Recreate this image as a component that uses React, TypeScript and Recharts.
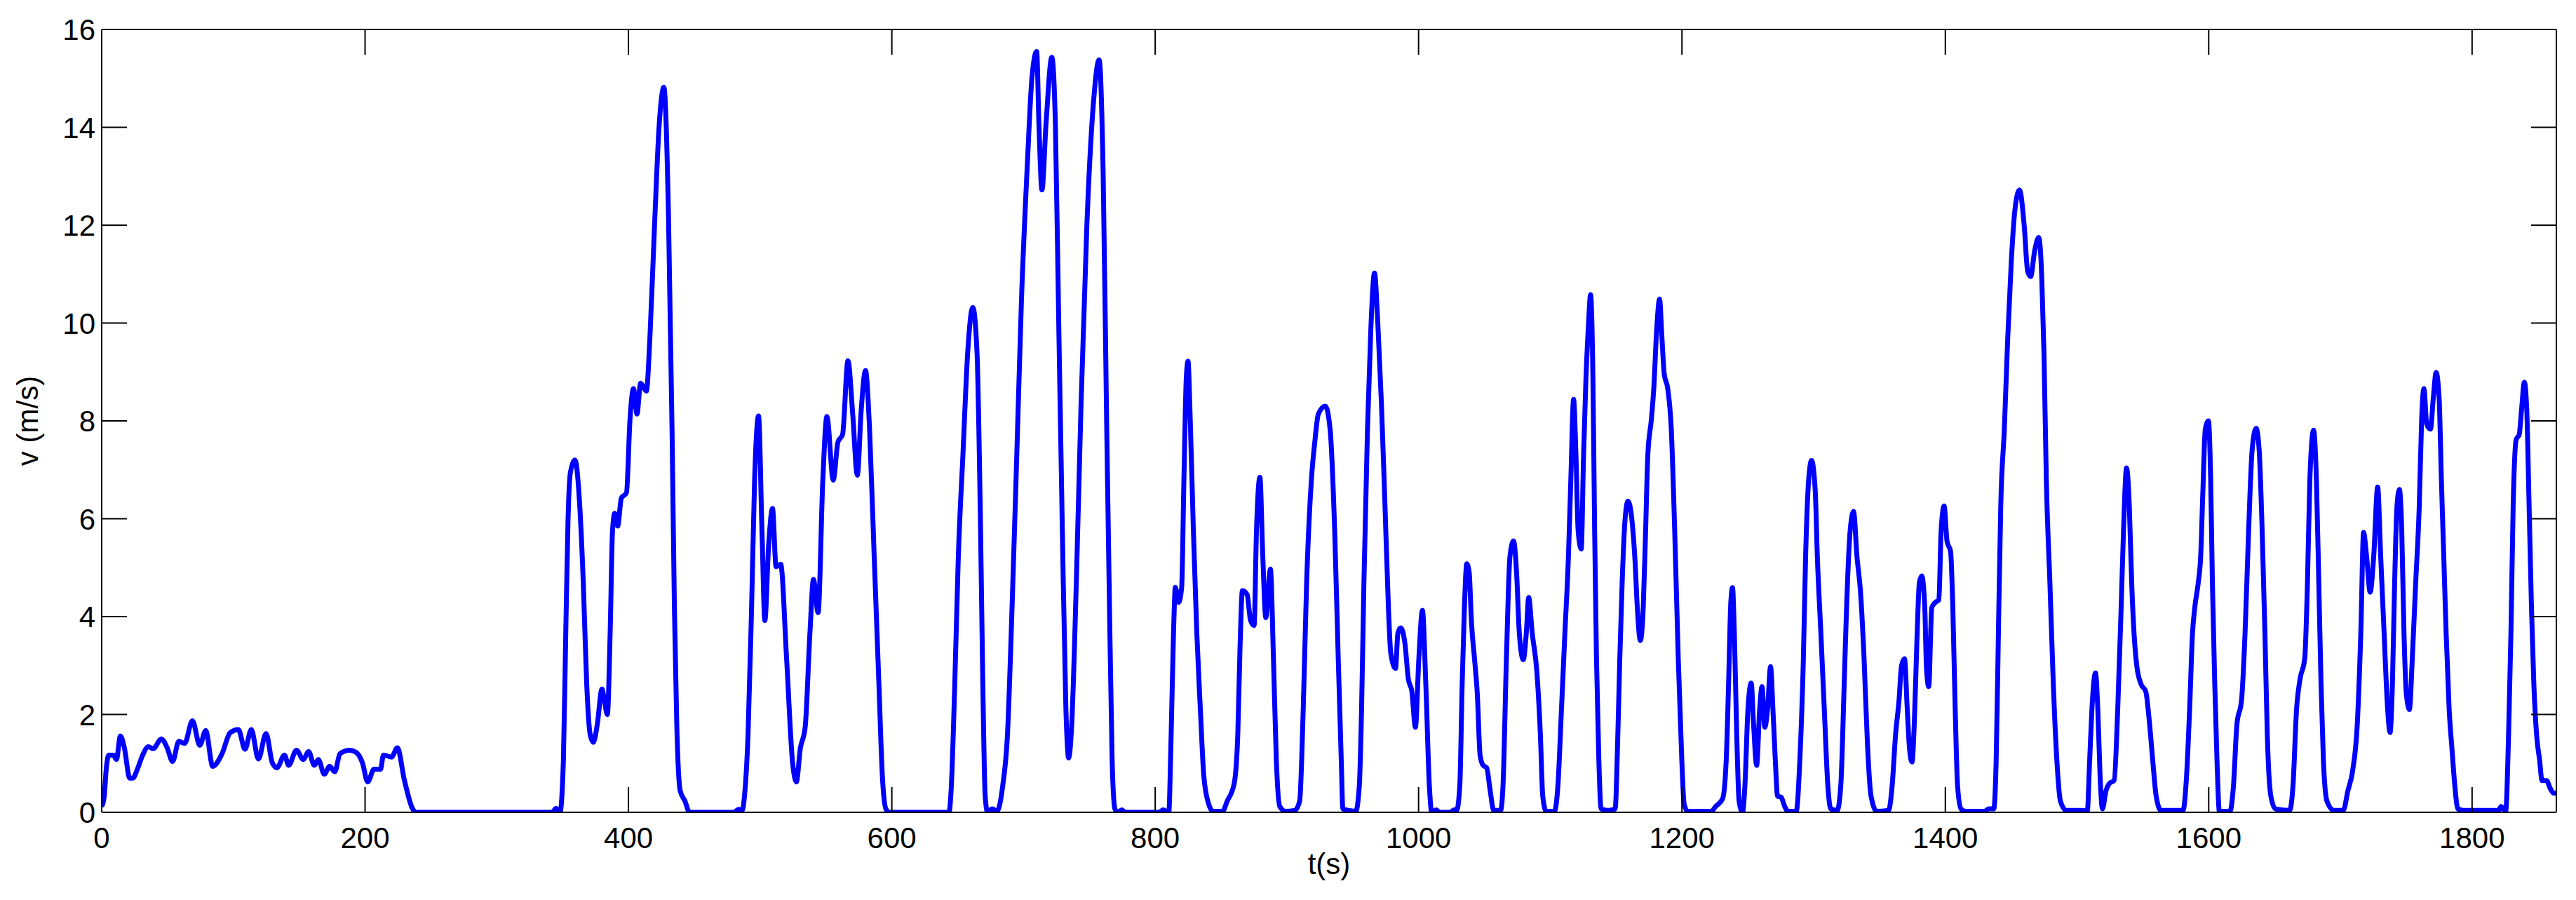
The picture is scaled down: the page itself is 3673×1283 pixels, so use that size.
import React from 'react';
import { LineChart, Line, XAxis, YAxis } from 'recharts';

const FONT = "'Liberation Sans', Arial, Helvetica, sans-serif";
const X_TICKS = [0, 200, 400, 600, 800, 1000, 1200, 1400, 1600, 1800];
const Y_TICKS = [0, 2, 4, 6, 8, 10, 12, 14, 16];
const X_MAX = 1864;
const Y_MAX = 16;
const X_TITLE = 't(s)';
const Y_TITLE = 'v (m/s)';

// [t (s), v (m/s)]
const part1: [number, number][] = [
  [0, 0.12], [1.8, 0.3], [3.5, 0.9], [5.3, 1.17], [8.9, 1.17], [11.2, 1.08], [14.2, 1.56], [17.2, 1.32],
  [21.3, 0.7], [23.6, 0.7], [27.5, 0.91], [31.1, 1.17], [35.5, 1.34], [39.1, 1.3], [45.3, 1.5], [49.7, 1.32],
  [53.8, 1.04], [58.6, 1.45], [63, 1.41], [68.9, 1.87], [74.5, 1.37], [79, 1.67], [84.3, 0.94], [91.4, 1.2],
  [97.6, 1.63], [103.8, 1.69], [108.8, 1.29], [113.6, 1.69], [119, 1.09], [124.8, 1.61], [129.6, 1.01],
  [133.1, 0.91], [138.8, 1.17], [142, 0.96], [147.9, 1.27], [153, 1.08], [157.1, 1.24], [161.5, 0.96],
  [164.5, 1.08], [169, 0.78], [173.1, 0.94], [177, 0.83], [181, 1.2], [188.2, 1.27], [193.5, 1.22], [198, 1.01],
  [202, 0.62], [206.8, 0.88], [211.8, 0.88], [213.9, 1.17], [220.1, 1.13], [224.5, 1.32], [229.9, 0.65],
  [236.1, 0.07], [238.7, 0],
];

const part2: [number, number][] = [
  [300, 0], [342, 0], [345, 0.08], [348, 0],
  [350.6, 1.06], [352.4, 3.66], [354.1, 5.95], [355.9, 6.94], [359.4, 7.2], [363, 6.27], [365.7, 4.7],
  [368.3, 2.62], [371, 1.58], [373.3, 1.43], [376.3, 1.79], [379.9, 2.52], [381.6, 2.31], [384, 2.0],
  [386.1, 3.66], [387.9, 5.75], [389.6, 6.11], [391.8, 5.85], [394.6, 6.42], [398.5, 6.53], [401.2, 8.04],
  [403.8, 8.66], [406.5, 8.14], [409.2, 8.77], [413.6, 8.61], [416.3, 9.7], [419.8, 11.99], [423.4, 14.07],
  [426.9, 14.82], [430.4, 12.2], [433.1, 7.83], [434.9, 4.18], [436.7, 1.79], [439.3, 0.44], [442.9, 0.23],
  [446.4, 0], [480, 0], [483.7, 0.06], [486.5, 0.05], [488.1, 0.33], [490.8, 1.58], [493.5, 4.18],
  [495.8, 6.79], [498.8, 8.1], [501.4, 5.75], [503.6, 3.92], [506.4, 5.43], [509.4, 6.21], [512.1, 5.02],
  [515.6, 5.07], [520.1, 3.14], [524.5, 1.06], [527.5, 0.62], [530.5, 1.3], [534.2, 1.74], [537.8, 3.66],
  [540.5, 4.76], [544, 4.08], [547.6, 6.79], [550.7, 8.09], [555.5, 6.79], [559.1, 7.57], [562.6, 7.72],
  [566.7, 9.23], [570.3, 8.14], [573.8, 6.89], [576.8, 8.24], [580, 9.03], [583.1, 7.83], [586.6, 5.23],
  [590.2, 2.62], [592.8, 0.75], [595.5, 0.07], [598.1, 0],
];

const part3: [number, number][] = [
  [643.4, 0], [645.2, 0.54], [647.8, 2.62], [650.5, 5.23], [654, 7.31], [657.6, 9.39], [661.5, 10.32],
  [664.7, 9.39], [667.4, 5.75], [669.1, 2.62], [670.9, 0.33], [672.7, 0], [676.2, 0.07], [679.8, 0.02],
  [684.2, 0.54], [687.8, 1.58], [691.3, 4.18], [694.9, 7.31], [698.4, 10.43], [702.9, 13.24], [706.4, 15.01],
  [710, 15.55], [711.7, 14.07], [714, 12.72], [717.1, 14.07], [721.5, 15.43], [724.2, 14.07], [726.8, 9.91],
  [729.5, 5.75], [732.2, 2.1], [734.3, 1.11], [736.6, 1.79], [740.1, 4.7], [743.7, 8.35], [748.1, 11.99],
  [753.4, 14.6], [757.4, 15.38], [760.5, 13.03], [763.2, 7.83], [765, 4.7], [767.3, 1.06], [769.4, 0.07],
  [771.2, 0], [774.7, 0.05], [777, 0], [803, 0], [805.9, 0.05], [810.3, 0], [812.1, 1.58], [813.9, 3.66],
  [815.3, 4.6], [817.8, 4.29], [820.1, 4.6], [821.8, 6.79], [823.6, 8.87], [824.9, 9.22], [826.6, 8.04],
  [829, 5.75], [831.6, 3.66], [834.3, 2.1], [836.9, 0.75], [840.5, 0.18], [844, 0.02], [851.1, 0.02],
  [854.7, 0.23], [860, 0.59], [862.7, 1.58], [864.4, 3.35], [866.2, 4.53], [869.8, 4.45], [872.4, 3.92],
  [875.1, 3.82], [876.9, 5.75], [879.5, 6.85], [881.7, 5.23], [884, 3.98], [887.5, 4.97], [889.8, 3.14],
  [892, 1.06], [894.6, 0.12], [899, 0.02],
];

const part4: [number, number][] = [
  [906.1, 0.04], [909.7, 0.23], [912.4, 2.1], [915, 4.7], [918.6, 6.79], [921.2, 7.57], [923.9, 8.14],
  [929.2, 8.3], [932.8, 7.83], [936.3, 5.75], [939, 3.14], [941.3, 1.06], [942.5, 0.07], [947, 0.04],
  [952.3, 0.02], [955, 0.54], [956.7, 2.1], [958.5, 4.7], [961.2, 7.83], [963.8, 9.91], [966.5, 11.02],
  [969.2, 9.91], [971.8, 8.35], [974.5, 6.27], [977.1, 4.18], [978.9, 3.25], [982.5, 2.94], [984.3, 3.66],
  [986.4, 3.77], [989.6, 3.46], [992.2, 2.73], [994.9, 2.47], [997.6, 1.74], [1000.2, 3.14], [1002.9, 4.13],
  [1005.5, 2.62], [1008.2, 0.54], [1010, 0], [1013.5, 0.05], [1016, 0], [1024, 0], [1026.9, 0.05],
  [1029, 0.05], [1031.3, 0.54], [1033.1, 2.62], [1034.8, 4.18], [1036.6, 5.08], [1038.4, 4.91],
  [1040.2, 3.87], [1042.8, 3.04], [1044.6, 2.42], [1046.7, 1.17], [1049, 0.96], [1051.7, 0.91],
  [1054.4, 0.44], [1057, 0.04], [1062.3, 0.04], [1064.1, 0.54], [1066.7, 3.14], [1069.4, 5.23],
  [1072.1, 5.55], [1074.4, 4.91], [1076.5, 3.66], [1079.5, 3.12], [1081.8, 3.66], [1083.6, 4.39],
  [1086.3, 3.66], [1089.8, 2.88], [1092.5, 1.58], [1094.3, 0.33], [1096.9, 0.02], [1103.1, 0.02],
  [1105.8, 0.54], [1108.5, 2.1], [1111.1, 3.66], [1113.8, 5.23], [1115.6, 6.79], [1117.7, 8.44],
  [1119.5, 7.31], [1121.2, 5.75], [1123.5, 5.38], [1125.3, 7.31], [1127.1, 8.87], [1128.9, 9.91],
  [1130.6, 10.58], [1132.4, 8.87], [1133.7, 5.75], [1135.1, 3.14], [1136.9, 1.06], [1138.6, 0.07],
  [1144, 0.04], [1149.3, 0.07], [1151.1, 1.37], [1152.8, 3.14], [1154.6, 4.7], [1156.7, 5.95], [1159, 6.36],
  [1162.1, 5.95], [1164.4, 5.12], [1166.1, 4.18], [1168.4, 3.51], [1170.6, 4.18], [1172.4, 5.75],
  [1174.1, 7.31], [1176.8, 8.04], [1178.6, 8.66], [1180.9, 9.91], [1183, 10.49], [1184.8, 9.7],
  [1186.5, 8.97], [1189.2, 8.66], [1191.9, 7.83], [1194.5, 5.75], [1197.2, 3.14], [1199.9, 1.06],
];

const part5: [number, number][] = [
  [1201.6, 0.18], [1204.3, 0.02], [1222.1, 0.02], [1225.6, 0.12], [1230.9, 0.28], [1233.6, 1.06],
  [1235.4, 2.62], [1237.1, 4.29], [1238.4, 4.59], [1239.8, 3.66], [1241.6, 1.58], [1243.4, 0.23], [1246, 0],
  [1247.8, 0.54], [1250.1, 2.1], [1252.6, 2.64], [1254.4, 1.79], [1256.7, 0.96], [1259, 2.1], [1260.8, 2.57],
  [1262.9, 1.74], [1265, 2.1], [1267.3, 2.98], [1269.1, 2.1], [1270.9, 1.06], [1272.6, 0.33], [1275.3, 0.31],
  [1278, 0.12], [1280.6, 0.02], [1286.8, 0.02], [1289.5, 1.06], [1292.2, 3.14], [1293.9, 5.23],
  [1296.2, 6.79], [1298.4, 7.19], [1301.2, 6.58], [1302.8, 5.23], [1305.5, 3.66], [1308.1, 2.1],
  [1310.8, 0.54], [1313, 0.07], [1317.9, 0.04], [1320.6, 0.54], [1323.2, 2.62], [1325, 4.18], [1327.7, 5.75],
  [1330.3, 6.15], [1332.9, 5.23], [1335.6, 4.5], [1338.3, 3.14], [1340.9, 1.37], [1343.6, 0.33], [1348, 0.02],
  [1356.9, 0.04], [1359.6, 0.54], [1362.2, 1.58], [1364.9, 2.31], [1366.7, 2.99], [1369, 3.14], [1371.1, 2.1],
  [1372.9, 1.27], [1374.7, 1.03], [1376.4, 1.79], [1378.6, 3.66], [1380.3, 4.7], [1382.1, 4.83],
  [1384.4, 4.18], [1385.7, 2.94], [1387.4, 2.57], [1389.7, 4.18], [1392.4, 4.29], [1395.1, 4.34],
  [1396.8, 5.75], [1399.1, 6.26], [1401.3, 5.54], [1404, 5.33], [1405.7, 4.18], [1407.5, 2.1], [1409.3, 0.54],
  [1411.9, 0.07], [1415.5, 0.02], [1429.7, 0.02], [1432.9, 0.07], [1436.8, 0.07], [1438.6, 1.06],
  [1440.3, 3.66], [1442.1, 6.27], [1444.8, 7.83], [1447.4, 9.7], [1450.1, 11.26], [1452.8, 12.3],
  [1456.3, 12.72], [1459.9, 11.99], [1462.5, 11.06], [1464.8, 10.95], [1467.8, 11.47], [1470.9, 11.75],
  [1473.2, 10.95], [1474.9, 9.39], [1476.7, 6.79], [1479.4, 4.7], [1482, 2.62], [1484.7, 1.06],
  [1487.4, 0.23], [1491.8, 0.04],
];

const part6: [number, number][] = [
  [1504.2, 0.04], [1507.8, 0.02], [1509.6, 1.06], [1511.3, 2.1], [1514, 2.85], [1515.8, 2.1], [1517.5, 0.75],
  [1519.3, 0.07], [1522, 0.44], [1524.6, 0.59], [1528.2, 0.65], [1530.9, 2.1], [1533.5, 4.18], [1535.3, 5.75],
  [1537.6, 7.04], [1539.7, 6.27], [1541.5, 4.7], [1543.3, 3.66], [1545.4, 2.99], [1548.6, 2.62],
  [1552.2, 2.47], [1554.8, 1.89], [1557.5, 1.06], [1560.1, 0.33], [1563.7, 0.04], [1580.5, 0.04],
  [1583.2, 0.75], [1585.5, 2.1], [1587.7, 3.66], [1589.4, 4.18], [1592.1, 4.7], [1593.9, 5.23],
  [1595.6, 6.58], [1597.4, 7.83], [1599.8, 8.0], [1601.5, 6.79], [1602.8, 4.7], [1604.6, 2.62],
  [1606.3, 1.06], [1608.1, 0.02], [1616.1, 0.02], [1618.8, 0.54], [1621.4, 1.79], [1625, 2.31],
  [1627.6, 3.66], [1630.3, 5.75], [1633, 7.41], [1636, 7.85], [1638.3, 7.41], [1640.6, 5.75], [1642.7, 3.66],
  [1644.5, 1.58], [1647.2, 0.33], [1650.7, 0.07], [1661.4, 0.04], [1664, 0.54], [1666.7, 2.1], [1669.4, 2.73],
  [1672.9, 3.14], [1675, 4.7], [1676.8, 6.79], [1679.6, 7.81], [1681.8, 6.79], [1683.6, 4.7], [1685.3, 2.62],
  [1687.1, 1.06], [1689.8, 0.23], [1695.1, 0.04], [1702.2, 0.04], [1705.7, 0.44], [1709.3, 0.85],
  [1712.8, 1.79], [1715.5, 3.66], [1717.6, 5.72], [1719.9, 5.23], [1722.6, 4.5], [1725.3, 5.23],
  [1728.3, 6.65], [1730.6, 5.23], [1733.2, 3.66], [1735.9, 2.1], [1737.7, 1.63], [1739.5, 2.62],
  [1741.2, 4.7], [1743, 6.27], [1744.8, 6.6], [1746.6, 5.75], [1748.3, 3.66], [1750.1, 2.42], [1752.4, 2.1],
  [1754.6, 3.14], [1757.2, 4.7], [1759.9, 6.27], [1761.7, 8.04], [1763.4, 8.66], [1765.6, 7.93],
  [1768.4, 7.83], [1770.5, 8.45], [1772.7, 8.99], [1775, 8.45], [1776.7, 6.79], [1778.5, 5.23],
  [1780.3, 3.66], [1782.6, 2.1], [1784.8, 1.27], [1786.9, 0.54], [1789.2, 0.07], [1793.7, 0.04],
  [1820.2, 0.04], [1822, 0.12], [1825.5, 0.02], [1827.7, 1.58], [1829.5, 3.66], [1831.2, 6.27],
  [1833.5, 7.62], [1835.8, 7.72], [1837.6, 8.24], [1839.7, 8.79], [1841.5, 8.24], [1843.3, 6.27],
  [1845.1, 4.18], [1846.9, 2.62], [1849, 1.58], [1851.3, 1.06], [1853.1, 0.65], [1856.6, 0.65],
  [1859.3, 0.49], [1862, 0.39], [1863.7, 0.39],
];

const data = [...part1, ...part2, ...part3, ...part4, ...part5, ...part6]
  .sort((a, b) => a[0] - b[0])
  .map(([t, v]) => ({ t, v }));

const TICK_LEN = 36;
const AX = { stroke: '#000', strokeWidth: 2 };

const LeftTick = (props: any) => {
  const { x, y, payload } = props;
  return (
    <g>
      <line x1={x + 9} y1={y} x2={x + 9 + TICK_LEN} y2={y} {...AX} />
      <text x={x} y={y + 15} textAnchor="end" fontFamily={FONT} fontSize={42} fill="#000">
        {payload.value}
      </text>
    </g>
  );
};

const BottomTick = (props: any) => {
  const { x, y, payload } = props;
  return (
    <g>
      <line x1={x} y1={y} x2={x} y2={y - TICK_LEN} {...AX} />
      <text x={x} y={y + 51} textAnchor="middle" fontFamily={FONT} fontSize={42} fill="#000">
        {payload.value}
      </text>
    </g>
  );
};

const RightTick = (props: any) => {
  const { x, y } = props;
  return <line x1={x - TICK_LEN} y1={y} x2={x} y2={y} {...AX} />;
};

const TopTick = (props: any) => {
  const { x, y } = props;
  return <line x1={x} y1={y} x2={x} y2={y + TICK_LEN} {...AX} />;
};

const XTitle = (props: any) => {
  const vb = props.viewBox || {};
  return (
    <text x={vb.x + vb.width / 2} y={vb.y + 88} textAnchor="middle" fontFamily={FONT} fontSize={42} fill="#000">
      {X_TITLE}
    </text>
  );
};

const YTitle = (props: any) => {
  const vb = props.viewBox || {};
  const cx = 54;
  const cy = vb.y + vb.height / 2;
  return (
    <text x={cx} y={cy} transform={`rotate(-90, ${cx}, ${cy})`} textAnchor="middle" fontFamily={FONT} fontSize={42} fill="#000">
      {Y_TITLE}
    </text>
  );
};

export default function App() {
  return (
    <div style={{ position: 'absolute', left: 0, top: 0, background: '#fff' }}>
      <LineChart
        width={3673}
        height={1283}
        data={data}
        margin={{ top: 32, right: 18, bottom: 25, left: 0 }}
      >
        <XAxis
          xAxisId="b"
          dataKey="t"
          type="number"
          orientation="bottom"
          domain={[0, X_MAX]}
          ticks={X_TICKS}
          interval={0}
          allowDataOverflow
          height={100}
          tickSize={0}
          tickMargin={0}
          tickLine={false}
          axisLine={AX}
          tick={<BottomTick />}
          label={<XTitle />}
        />
        <XAxis
          xAxisId="t"
          dataKey="t"
          type="number"
          orientation="top"
          domain={[0, X_MAX]}
          ticks={X_TICKS}
          interval={0}
          allowDataOverflow
          height={10}
          tickSize={0}
          tickMargin={0}
          tickLine={false}
          axisLine={AX}
          tick={<TopTick />}
        />
        <YAxis
          yAxisId="l"
          type="number"
          orientation="left"
          domain={[0, Y_MAX]}
          ticks={Y_TICKS}
          interval={0}
          allowDataOverflow
          width={145}
          tickSize={0}
          tickMargin={9}
          tickLine={false}
          axisLine={AX}
          tick={<LeftTick />}
          label={<YTitle />}
        />
        <YAxis
          yAxisId="r"
          type="number"
          orientation="right"
          domain={[0, Y_MAX]}
          ticks={Y_TICKS}
          interval={0}
          allowDataOverflow
          width={10}
          tickSize={0}
          tickMargin={0}
          tickLine={false}
          axisLine={AX}
          tick={<RightTick />}
        />
        <Line
          xAxisId="b"
          yAxisId="l"
          dataKey="v"
          type="monotone"
          stroke="#0000FF"
          strokeWidth={7}
          strokeLinejoin="round"
          dot={false}
          activeDot={false}
          isAnimationActive={false}
        />
      </LineChart>
    </div>
  );
}
